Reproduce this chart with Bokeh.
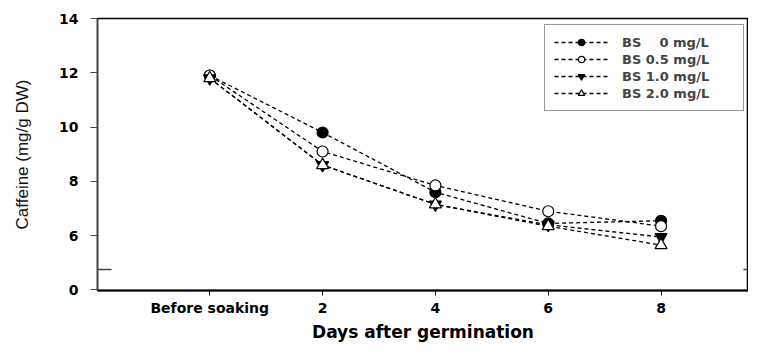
from bokeh.plotting import figure
from bokeh.models import FixedTicker, Legend, LegendItem, Range1d
from bokeh.embed import file_html
from bokeh.resources import INLINE

# ---- data ----
days = [0, 2, 4, 6, 8]
x_tick_labels = ["Before soaking", "2", "4", "6", "8"]
bs_0 = [11.9, 9.8, 7.6, 6.45, 6.55]
bs_05 = [11.9, 9.1, 7.85, 6.9, 6.35]
bs_10 = [11.8, 8.6, 7.15, 6.4, 5.95]
bs_20 = [11.8, 8.6, 7.15, 6.35, 5.65]
series_labels = ["BS\u00a0\u00a0\u00a0\u00a00 mg/L", "BS 0.5 mg/L", "BS 1.0 mg/L", "BS 2.0 mg/L"]
y_ticks = [6, 8, 10, 12, 14]
zero_pos = 4.0      # where "0" sits on the broken axis
break_pos = 4.75    # axis break mark
x_title = "Days after germination"

TICK_FONT = "DejaVu Sans"
X0, X1 = -1.99, 9.55
Y0, Y1 = 3.98, 14.0

p = figure(width=748, height=344, output_backend="svg", toolbar_location=None,
           x_range=Range1d(X0, X1), y_range=Range1d(Y0, Y1),
           min_border_left=97, min_border_right=0, min_border_top=18, min_border_bottom=40)
p.xgrid.visible = False
p.ygrid.visible = False
p.outline_line_color = "black"
p.outline_line_width = 1.5

# axes
xa = p.xaxis[0]
xa.ticker = FixedTicker(ticks=days)
xa.major_label_overrides = {d: lbl for d, lbl in zip(days, x_tick_labels)}
xa.minor_tick_line_color = None
xa.major_tick_out = 5
xa.major_tick_in = 0
xa.axis_line_width = 2
xa.major_label_text_font = TICK_FONT
xa.major_label_text_font_style = "bold"
xa.major_label_text_font_size = "14px"
xa.major_label_text_color = "black"
xa.major_label_standoff = 4
xa.axis_label = x_title
xa.axis_label_text_font = TICK_FONT
xa.axis_label_text_font_style = "bold"
xa.axis_label_text_font_size = "17px"
xa.axis_label_text_color = "black"
xa.axis_label_standoff = 3

ya = p.yaxis[0]
ya.ticker = FixedTicker(ticks=[zero_pos] + y_ticks)
ya.major_label_overrides = {zero_pos: "0"}
ya.minor_tick_line_color = None
ya.major_tick_out = 7
ya.major_tick_in = 0
ya.axis_line_width = 1.5
ya.axis_line_color = "#444444"
ya.major_tick_line_color = "#444444"
ya.major_label_text_font = TICK_FONT
ya.major_label_text_font_style = "bold"
ya.major_label_text_font_size = "14px"
ya.major_label_text_color = "black"
ya.major_label_standoff = 12
ya.axis_label = "Caffeine (mg/g DW)"
ya.axis_label_text_font = "Liberation Sans"
ya.axis_label_text_font_style = "normal"
ya.axis_label_text_font_size = "17px"
ya.axis_label_text_color = "#111111"
ya.axis_label_standoff = 24

# axis-break marks (left and right)
p.segment(x0=[X0, X1], y0=[break_pos, break_pos], x1=[X0 + 0.25, X1 - 0.09], y1=[break_pos, break_pos],
          line_color="#444444", line_width=1.5)

# series
styles = [
    dict(marker="circle", fill_color="black", size=11),
    dict(marker="circle", fill_color="white", size=11),
    dict(marker="inverted_triangle", fill_color="black", size=12),
    dict(marker="triangle", fill_color="white", size=12),
]
items = []
for vals, lbl, st in zip([bs_0, bs_05, bs_10, bs_20], series_labels, styles):
    ln = p.line(days, vals, line_color="black", line_width=1.3, line_dash="4 3")
    sc = p.scatter(days, vals, marker=st["marker"], size=st["size"], fill_color=st["fill_color"],
                   line_color="black", line_width=1.2)
    items.append(LegendItem(label=lbl, renderers=[ln, sc]))

legend = Legend(items=items, location=(447, 179), orientation="vertical",
                padding=9, spacing=1, margin=0,
                glyph_width=54, glyph_height=16, label_height=16, label_width=112,
                label_standoff=14,
                label_text_font=TICK_FONT, label_text_font_style="bold",
                label_text_font_size="13px",
                border_line_color="#333333", border_line_width=1,
                background_fill_color="white", background_fill_alpha=1)
p.add_layout(legend, "center")

open("out.html", "w").write(file_html(p, INLINE))
